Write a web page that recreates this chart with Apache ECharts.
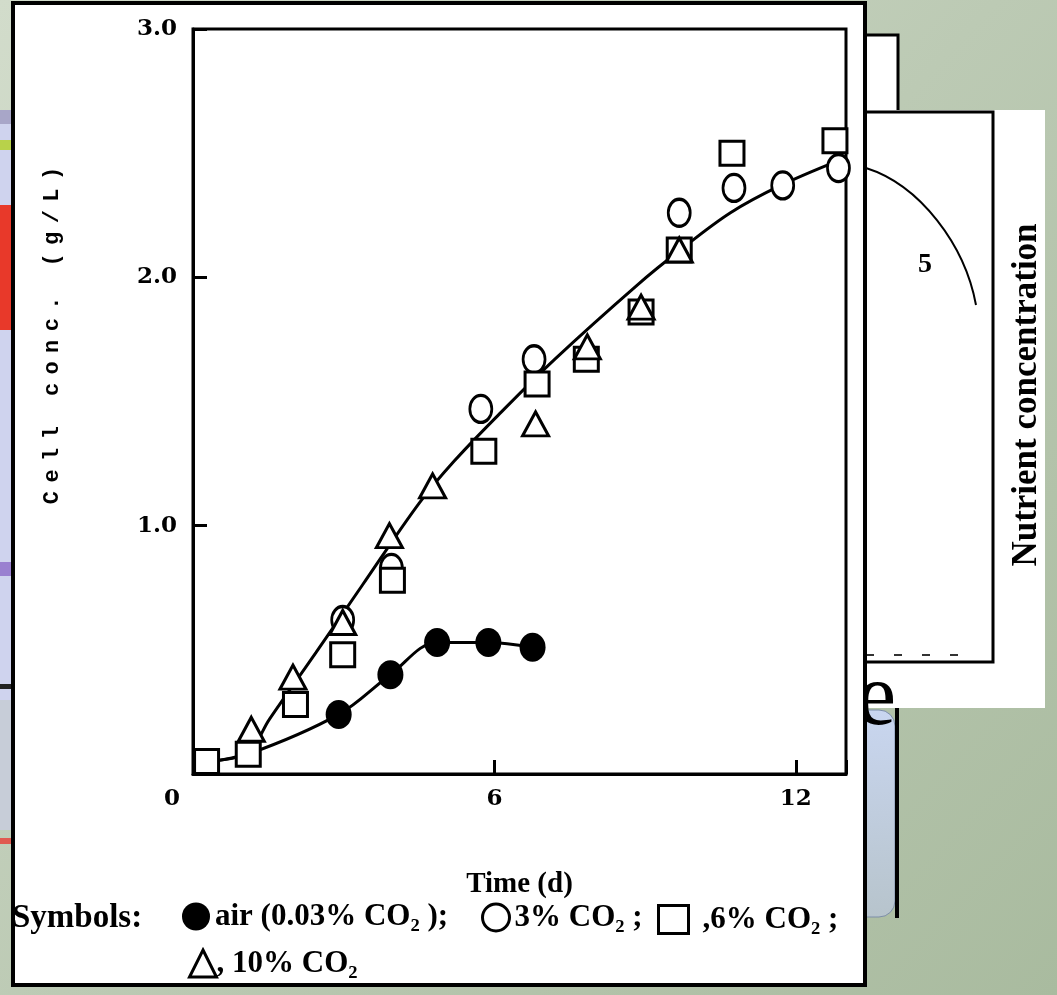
<!DOCTYPE html>
<html><head><meta charset="utf-8">
<script src="https://cdn.jsdelivr.net/npm/echarts@6/dist/echarts.min.js"></script>
<style>html,body{margin:0;padding:0;background:#bccab4}#c{width:1057px;height:995px}</style>
</head><body><div id="c"></div>
<script>
// ---- data ----
const xTickLabels = ['0', '6', '12'];
const yTickLabels = ['0', '1.0', '2.0', '3.0'];
const yAxisTitle = 'Cell conc. (g/L)';
const seriesNames = ['air (0.03% CO\u2082 );', '3% CO\u2082 ;', ',6% CO\u2082 ;', ', 10% CO\u2082'];
const airDays  = [0.3, 1.1, 2.9, 3.93, 4.86, 5.88, 6.76];
const airConc  = [0.05, 0.08, 0.24, 0.40, 0.53, 0.53, 0.51];
const co3Days  = [2.98, 3.95, 5.73, 6.79, 9.68, 10.77, 11.74, 12.85];
const co3Conc  = [0.62, 0.83, 1.47, 1.67, 2.26, 2.36, 2.37, 2.44];
const co6Days  = [0.27, 1.1, 2.04, 2.98, 3.97, 5.79, 6.85, 7.83, 8.92, 9.68, 10.73, 12.78];
const co6Conc  = [0.05, 0.08, 0.28, 0.48, 0.78, 1.30, 1.57, 1.67, 1.86, 2.11, 2.50, 2.55];
const co10Days = [1.16, 1.99, 2.98, 3.91, 4.77, 6.82, 7.85, 8.92, 9.68];
const co10Conc = [0.18, 0.39, 0.61, 0.96, 1.16, 1.41, 1.72, 1.88, 2.11];
const fitDays  = [0.3, 1.1, 1.52, 2.45, 3.37, 4.5, 5.2, 6.1, 7.2, 8.85, 9.7, 10.7, 11.7, 12.85];
const fitConc  = [0.05, 0.09, 0.22, 0.49, 0.76, 1.09, 1.26, 1.45, 1.67, 1.97, 2.11, 2.26, 2.37, 2.47];
const airHiddenCount = 2; // first air points lie under the square markers

const zip = (a, b) => a.map((v, i) => [v, b[i]]);
const chart = echarts.init(document.getElementById('c'));
const serif = '"Liberation Serif", "DejaVu Serif", serif';
const mono = '"Liberation Mono", "DejaVu Sans Mono", monospace';
const tickFont = '"DejaVu Serif", serif';
const openStyle = { color: '#fff', borderColor: '#000', borderWidth: 3, opacity: 1 };
const legendText = { fontFamily: serif, fontWeight: 'bold', fontSize: 31, color: '#000' };
// spaced-out typewriter title, as in the scan
const yTitleRich = yAxisTitle.split('').map(c => c === ' ' ? '{w| }' : '{a|' + c + '}').join('{g| }');

function oneLegend(i, icon, left, top, w, h, style, pad) {
  return { data: [{ name: seriesNames[i], icon: icon, itemStyle: style }], left: left, top: top,
    itemWidth: w, itemHeight: h, symbolKeepAspect: icon === 'triangle',
    textStyle: Object.assign({ padding: [0, 0, 0, pad || 0] }, legendText) };
}

chart.setOption({
  animation: false,
  backgroundColor: 'transparent',
  grid: { left: 193, right: 211, top: 29, bottom: 221, show: true, borderColor: '#000', borderWidth: 3, outerBoundsMode: 'none', z: 1 },
  xAxis: {
    type: 'value', min: 0, max: 13, interval: 6,
    name: 'Time (d)', nameLocation: 'middle', nameGap: 96,
    nameTextStyle: { fontFamily: serif, fontWeight: 'bold', fontSize: 29, color: '#000' },
    axisLine: { lineStyle: { color: '#000', width: 3 } },
    axisTick: { inside: true, length: 14, lineStyle: { color: '#000', width: 3 } },
    splitLine: { show: false },
    axisLabel: {
      margin: 14, color: '#000', fontFamily: tickFont, fontWeight: 'bold', fontSize: 23,
      formatter: v => { const i = [0, 6, 12].indexOf(v); if (i < 0) return ''; return i === 0 ? '{z|' + xTickLabels[0] + '}' : xTickLabels[i]; },
      rich: { z: { padding: [0, 42, 0, 0], color: '#000', fontFamily: tickFont, fontWeight: 'bold', fontSize: 23 } }
    }
  },
  yAxis: {
    type: 'value', min: 0, max: 3, interval: 1,
    name: yTitleRich, nameLocation: 'middle', nameGap: 130, nameRotate: 90,
    nameTextStyle: { color: '#000', padding: [0, 0, 0, 132],
      rich: { a: { fontFamily: mono, fontWeight: 'bold', fontSize: 22, color: '#000' },
              w: { fontFamily: mono, fontWeight: 'bold', fontSize: 22, color: '#000' },
              g: { fontFamily: mono, fontSize: 14, color: '#000' } } },
    axisLine: { lineStyle: { color: '#000', width: 3 } },
    axisTick: { inside: true, length: 14, lineStyle: { color: '#000', width: 3 } },
    splitLine: { show: false },
    axisLabel: { margin: 16, color: '#000', fontFamily: tickFont, fontWeight: 'bold', fontSize: 23,
      formatter: v => v === 0 ? '' : yTickLabels[Math.round(v)] }
  },
  legend: [
    oneLegend(0, 'circle', 177, 896, 28, 32, { color: '#000', borderWidth: 0, opacity: 1 }, 0),
    oneLegend(1, 'circle', 476, 897, 27, 30, openStyle, 0),
    oneLegend(2, 'rect', 652, 899, 30, 28, openStyle, 9),
    oneLegend(3, 'triangle', 183, 943, 27, 27, openStyle, -5)
  ],
  series: [
    { name: 'fit', type: 'line', data: zip(fitDays, fitConc), smooth: 0.35, showSymbol: false, z: 2,
      lineStyle: { color: '#000', width: 3 }, silent: true },
    { name: seriesNames[0], type: 'line', smooth: 0.35, z: 3,
      data: zip(airDays, airConc).map((p, i) => i < airHiddenCount ? { value: p, symbol: 'none' } : { value: p }),
      symbol: 'circle', symbolSize: [26, 29], lineStyle: { color: '#000', width: 3 },
      itemStyle: { color: '#000', opacity: 1 } },
    { name: seriesNames[1], type: 'scatter', data: zip(co3Days, co3Conc), symbol: 'circle', symbolSize: [22, 27], z: 4, itemStyle: openStyle },
    { name: seriesNames[2], type: 'scatter', data: zip(co6Days, co6Conc), symbol: 'rect', symbolSize: 24, z: 5, itemStyle: openStyle },
    { name: seriesNames[3], type: 'scatter', data: zip(co10Days, co10Conc), symbol: 'triangle', symbolSize: [26, 24], z: 6, itemStyle: openStyle }
  ],
  graphic: [
    { type: 'rect', z: -100, shape: { x: 0, y: 0, width: 1057, height: 995 },
      style: { fill: new echarts.graphic.LinearGradient(0, 0, 1, 1, [
        { offset: 0, color: '#d2dccb' }, { offset: 0.5, color: '#bccab4' }, { offset: 1, color: '#a9bb9f' }]) } },
    // left fragments
    { type: 'rect', z: -90, shape: { x: 0, y: 110, width: 14, height: 720 }, style: { fill: '#cfd3ee' } },
    { type: 'rect', z: -89, shape: { x: 0, y: 110, width: 14, height: 14 }, style: { fill: '#a8a6c8' } },
    { type: 'rect', z: -89, shape: { x: 0, y: 140, width: 14, height: 10 }, style: { fill: '#b8d24a' } },
    { type: 'rect', z: -89, shape: { x: 0, y: 205, width: 14, height: 125 }, style: { fill: '#e8392a' } },
    { type: 'rect', z: -89, shape: { x: 0, y: 562, width: 14, height: 14 }, style: { fill: '#9a80d0' } },
    { type: 'rect', z: -89, shape: { x: 0, y: 684, width: 14, height: 5 }, style: { fill: '#222' } },
    { type: 'rect', z: -89, shape: { x: 0, y: 700, width: 14, height: 130 }, style: { fill: '#c7cdd8' } },
    { type: 'rect', z: -89, shape: { x: 0, y: 838, width: 14, height: 6 }, style: { fill: '#e05a50' } },
    // right fragments
    { type: 'rect', z: -90, shape: { x: 850, y: 35, width: 48, height: 80 }, style: { fill: '#fff', stroke: '#000', lineWidth: 3 } },
    { type: 'rect', z: -89, shape: { x: 850, y: 110, width: 195, height: 598 }, style: { fill: '#fff' } },
    { type: 'rect', z: -88, shape: { x: 850, y: 112, width: 143, height: 550 }, style: { fill: 'none', stroke: '#000', lineWidth: 3 } },
    { type: 'line', z: -88, shape: { x1: 866, y1: 655, x2: 962, y2: 655 }, style: { stroke: '#333', lineWidth: 2, lineDash: [8, 20] } },
    { type: 'bezierCurve', z: -88, shape: { x1: 866, y1: 168, cpx1: 920, cpy1: 185, cpx2: 965, cpy2: 245, x2: 976, y2: 305 },
      style: { fill: 'none', stroke: '#000', lineWidth: 2 } },
    { type: 'text', z: -88, style: { text: '5', x: 925, y: 265, align: 'center', verticalAlign: 'middle', font: 'bold 28px ' + serif, fill: '#000' } },
    { type: 'text', z: -88, x: 1044, y: 395, rotation: Math.PI / 2,
      style: { text: 'Nutrient concentration', x: 0, y: 0, align: 'center', verticalAlign: 'bottom', font: 'bold 35px ' + serif, fill: '#000' } },
    { type: 'rect', z: -88, shape: { x: 840, y: 710, width: 55, height: 207, r: 16 },
      style: { fill: new echarts.graphic.LinearGradient(0, 0, 0, 1, [{ offset: 0, color: '#c9d6f0' }, { offset: 1, color: '#b7c4cc' }]), stroke: '#7d8ea8', lineWidth: 1 } },
    { type: 'rect', z: -87, shape: { x: 895, y: 708, width: 4, height: 210 }, style: { fill: '#000' } },
    { type: 'text', z: -86, style: { text: 'e', x: 857, y: 701, align: 'left', verticalAlign: 'middle', font: '88px ' + serif, fill: '#000' } },
    // main panel
    { type: 'rect', z: -10, shape: { x: 13, y: 3, width: 852, height: 982 }, style: { fill: '#fff', stroke: '#000', lineWidth: 4 } },
    { type: 'text', z: 10, style: { text: 'Symbols:', x: 12, y: 918, align: 'left', verticalAlign: 'middle', font: 'bold 33px ' + serif, fill: '#000' } }
  ]
});
</script></body></html>
